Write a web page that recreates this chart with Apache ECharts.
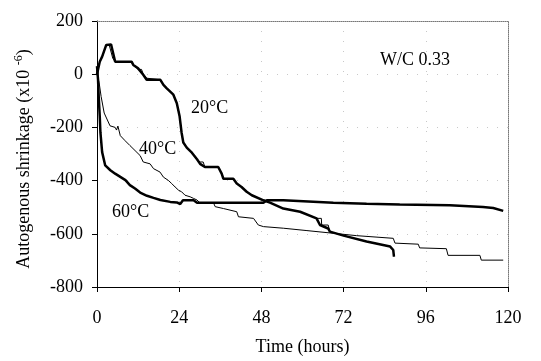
<!DOCTYPE html>
<html><head><meta charset="utf-8">
<script src="https://cdn.jsdelivr.net/npm/echarts@6/dist/echarts.min.js"></script>
<style>html,body{margin:0;padding:0;background:#fff}#c{width:541px;height:361px}</style>
</head><body><div id="c"></div>
<script>
const xTicks = [0, 24, 48, 72, 96, 120];
const yTicks = [-800, -600, -400, -200, 0, 200];

const t20 = [[0,0],[0.8,47],[1.5,66],[2.7,110],[3,112],[4.1,112],[5.3,47],[10.1,47],[10.6,35],[12,22],[13.5,-2],[14.5,-21],[18.5,-21],[19.4,-40],[20.3,-52],[22.3,-77],[23.3,-109],[24.1,-157],[24.7,-220],[25.2,-257],[26.2,-276],[27.7,-295],[29.2,-320],[30.1,-337],[31.5,-349],[35.4,-349],[36.4,-374],[36.9,-393],[39.8,-393],[40.8,-411],[42.2,-424],[43.7,-442],[45.2,-455],[48.6,-474],[50.5,-483],[54.4,-505],[59.3,-517],[64.1,-542],[65.1,-567],[67.5,-580],[68,-592],[72,-607],[78.7,-629],[85.6,-648],[86.5,-661],[86.7,-686]];
const v20 = [[0,0],[0.8,45],[1.5,64],[2.7,108],[3.6,108],[4.6,60],[5.3,47],[10.1,47],[10.6,35],[12,18],[13,18],[13.5,0],[14.5,-15],[18.5,-21],[19.4,-40],[20.3,-52],[22.3,-77],[23.3,-109],[24.1,-157],[24.7,-220],[25.2,-257],[26.2,-276],[27.7,-295],[29.2,-320],[30.1,-330],[31,-330],[31.5,-349],[35.4,-349],[36.4,-374],[36.9,-393],[39.8,-393],[40.8,-411],[42.2,-424],[43.7,-442],[45.2,-455],[48.6,-474],[50.5,-483],[54.4,-505],[59.3,-517],[64.1,-542],[65.5,-542],[65.6,-567],[67.5,-567],[68,-592],[72,-607],[78.7,-629],[85.6,-648],[86.5,-661],[86.7,-686]];
const t40 = [[0,0],[0.6,-30],[1.2,-84],[2.1,-146],[3.8,-194],[5.3,-200],[5.7,-210],[6.1,-195],[6.8,-231],[8.2,-250],[9.6,-268],[11.1,-287],[12.6,-306],[13.5,-330],[15.5,-337],[16.5,-355],[18.4,-368],[19.4,-387],[20.8,-399],[21.8,-411],[22.8,-424],[23.8,-436],[24.7,-442],[25.7,-455],[27.2,-461],[28.2,-467],[29.2,-473],[30,-483],[34,-483],[34.5,-498],[36.9,-505],[40.8,-517],[41.3,-536],[45.7,-542],[47.1,-567],[48.6,-573],[54.4,-579],[61.3,-588],[69,-598],[75.8,-607],[86.5,-617],[87,-635],[93.8,-639],[94.2,-653],[102,-656],[102.5,-681],[111.8,-681],[112.2,-699],[118.6,-699]];
const t60 = [[0,30],[0.3,-20],[0.5,-84],[0.8,-157],[1,-219],[1.5,-293],[2.4,-343],[3.9,-361],[5.3,-374],[6.8,-386],[8.3,-398],[9.6,-417],[11.1,-430],[12.6,-445],[14.6,-457],[16.5,-465],[18.5,-473],[21.4,-480],[23.3,-482],[24.3,-488],[25.1,-474],[28.2,-474],[29.2,-483],[48.6,-483],[49.6,-474],[54.4,-474],[69,-483],[78.7,-487],[88.4,-490],[103,-493],[112.7,-499],[115.7,-503],[118.6,-514]];

const serif = '"Liberation Serif","DejaVu Serif",serif';
const chart = echarts.init(document.getElementById('c'));
function ln(data, w){ return {type:'line', data:data, showSymbol:false, symbol:'none', lineStyle:{color:'#000', width:w}, animation:false, z: w>1.5?3:2}; }
chart.setOption({
  animation:false,
  grid:{left:97, right:33, top:21, bottom:73},
  xAxis:[{type:'value', min:xTicks[0], max:xTicks[xTicks.length-1], interval:24,
    name:'Time (hours)', nameLocation:'middle', nameGap:51,
    nameTextStyle:{fontFamily:serif, fontSize:18, color:'#000'},
    axisLine:{onZero:false, lineStyle:{color:'#000', width:1}},
    axisTick:{show:true, inside:false, length:5, lineStyle:{color:'#000'}},
    axisLabel:{fontFamily:serif, fontSize:18, color:'#000', margin:22},
    splitLine:{show:true, lineStyle:{color:'#c8c8c8', type:[1,9], width:1}}},
   {type:'value', position:'top', min:0, max:120, axisLine:{show:true, onZero:false, lineStyle:{color:'#777', type:[1,1]}}, axisTick:{show:false}, axisLabel:{show:false}, splitLine:{show:false}}],
  yAxis:[{type:'value', min:yTicks[0], max:yTicks[yTicks.length-1], interval:200,
    name:'Autogenous shrinkage (x10 {s|-6})', nameLocation:'middle', nameGap:62, nameRotate:90,
    nameTextStyle:{fontFamily:serif, fontSize:18, color:'#000', padding:[0,0,0,-10], rich:{s:{fontFamily:serif, fontSize:12, color:'#000', verticalAlign:'bottom', padding:[0,0,10,0]}}},
    axisLine:{show:true, onZero:false, lineStyle:{color:'#000', width:1}},
    axisTick:{show:true, inside:false, length:5, lineStyle:{color:'#000'}},
    axisLabel:{fontFamily:serif, fontSize:18, color:'#000', margin:14},
    splitLine:{show:true, lineStyle:{color:'#c8c8c8', type:[1,9], width:1}}},
   {type:'value', position:'right', min:-800, max:200, axisLine:{show:true, onZero:false, lineStyle:{color:'#777', type:[1,1]}}, axisTick:{show:false}, axisLabel:{show:false}, splitLine:{show:false}}],
  series:[ln(v20,1), ln(t40,1), ln(t20,2.5), ln(t60,2.5)],
  graphic:[
    {type:'text', left:191, top:99, style:{text:'20°C', font:'18px '+serif, fill:'#000'}},
    {type:'text', left:139, top:140, style:{text:'40°C', font:'18px '+serif, fill:'#000'}},
    {type:'text', left:112, top:203, style:{text:'60°C', font:'18px '+serif, fill:'#000'}},
    {type:'text', left:380, top:51, style:{text:'W/C 0.33', font:'18px '+serif, fill:'#000'}}
  ]
});
</script></body></html>
